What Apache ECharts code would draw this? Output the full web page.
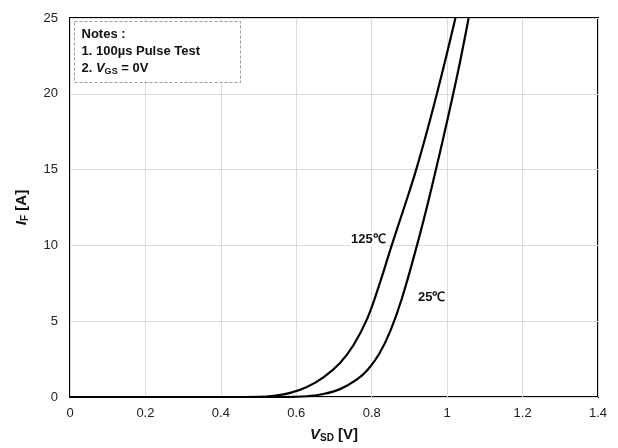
<!DOCTYPE html>
<html><head><meta charset="utf-8">
<script src="https://cdn.jsdelivr.net/npm/echarts@6/dist/echarts.min.js"></script>
<style>html,body{margin:0;padding:0;background:#fff}#c{width:618px;height:448px}</style>
</head><body><div id="c"></div>
<script>
const xTicks = [0, 0.2, 0.4, 0.6, 0.8, 1.0, 1.2, 1.4];
const yTicks = [0, 5, 10, 15, 20, 25];
const vsd125 = [0.0, 0.1, 0.2, 0.3, 0.4, 0.45, 0.5, 0.54, 0.584, 0.628, 0.672, 0.716, 0.751, 0.787, 0.82, 0.853, 0.886, 0.918, 0.955, 0.99, 1.022];
const if125  = [0, 0, 0, 0, 0, 0, 0.01, 0.08, 0.27, 0.66, 1.3, 2.25, 3.4, 5.1, 7.4, 10.0, 12.5, 15.0, 18.3, 21.7, 25];
const vsd25  = [0.0, 0.1, 0.2, 0.3, 0.4, 0.5, 0.55, 0.59, 0.628, 0.672, 0.716, 0.76, 0.79, 0.82, 0.85, 0.88, 0.92, 0.95, 0.975, 1.0, 1.03, 1.057];
const if25   = [0, 0, 0, 0, 0, 0, 0, 0.01, 0.05, 0.2, 0.52, 1.14, 1.82, 2.85, 4.4, 6.5, 10.0, 12.9, 15.5, 18.2, 21.6, 25];
const labels = [{text: '125\u2103', x: 0.84, y: 10.4, align: 'right'}, {text: '25\u2103', x: 0.92, y: 6.6, align: 'left'}];

const chart = echarts.init(document.getElementById('c'));
const FF = '"Liberation Sans", Arial, sans-serif';
const pair = (xs, ys) => xs.map((x, i) => [x, ys[i]]);
chart.setOption({
  animation: false,
  grid: {left: 70, right: 20, top: 18, bottom: 49, show: true, borderColor: '#000', borderWidth: 2, backgroundColor: 'transparent'},
  xAxis: {
    type: 'value', min: xTicks[0], max: xTicks[xTicks.length - 1], interval: 0.2,
    axisLine: {show: false}, axisTick: {show: false},
    splitLine: {lineStyle: {color: '#dcdcdc', width: 1}},
    axisLabel: {color: '#222', fontFamily: FF, fontSize: 13, margin: 10},
    name: '{i|V}{s|SD}{b| [V]}', nameLocation: 'middle', nameGap: 30,
    nameTextStyle: {rich: {
      i: {fontFamily: FF, fontSize: 15, fontWeight: 'bold', fontStyle: 'italic', color: '#111'},
      s: {fontFamily: FF, fontSize: 10, fontWeight: 'bold', color: '#111', verticalAlign: 'bottom', padding: [6, 0, 0, 0]},
      b: {fontFamily: FF, fontSize: 15, fontWeight: 'bold', color: '#111'}
    }}
  },
  yAxis: {
    type: 'value', min: yTicks[0], max: yTicks[yTicks.length - 1], interval: 5,
    axisLine: {show: false}, axisTick: {show: false},
    splitLine: {lineStyle: {color: '#dcdcdc', width: 1}},
    axisLabel: {color: '#222', fontFamily: FF, fontSize: 13, margin: 12},
    name: '{i|I}{s|F}{b| [A]}', nameLocation: 'middle', nameGap: 40, nameRotate: 90,
    nameTextStyle: {rich: {
      i: {fontFamily: FF, fontSize: 15, fontWeight: 'bold', fontStyle: 'italic', color: '#111'},
      s: {fontFamily: FF, fontSize: 10, fontWeight: 'bold', color: '#111', verticalAlign: 'bottom', padding: [6, 0, 0, 0]},
      b: {fontFamily: FF, fontSize: 15, fontWeight: 'bold', color: '#111'}
    }}
  },
  series: [
    {type: 'line', data: pair(vsd125, if125), smooth: 0.4, symbol: 'none', lineStyle: {color: '#000', width: 2.2}, clip: true},
    {type: 'line', data: pair(vsd25, if25), smooth: 0.4, symbol: 'none', lineStyle: {color: '#000', width: 2.2}, clip: true}
  ]
});

const g = [];
labels.forEach(l => {
  const p = chart.convertToPixel({gridIndex: 0}, [l.x, l.y]);
  g.push({type: 'text', x: p[0], y: p[1], z: 10, style: {
    text: l.text, font: 'bold 13px ' + FF, fill: '#111', align: l.align, verticalAlign: 'middle',
    backgroundColor: '#fff', padding: [1, 1]
  }});
});
g.push({type: 'group', left: 74, top: 21, z: 10, children: [
  {type: 'rect', shape: {x: 0, y: 0, width: 166, height: 61}, style: {fill: '#fff', stroke: '#999', lineWidth: 1, lineDash: [3, 2]}},
  {type: 'text', x: 7, y: 4, style: {
    text: '{b|Notes :}\n{b|1. 100\u00b5s Pulse Test}\n{b|2. }{i|V}{s|GS}{b| = 0V}',
    rich: {
      b: {font: 'bold 13px ' + FF, fill: '#111', lineHeight: 17},
      i: {font: 'italic bold 13px ' + FF, fill: '#111', lineHeight: 17},
      s: {font: 'bold 9px ' + FF, fill: '#111', lineHeight: 17, verticalAlign: 'bottom', padding: [5, 0, 0, 0]}
    }
  }}
]});
chart.setOption({graphic: g});
</script></body></html>
